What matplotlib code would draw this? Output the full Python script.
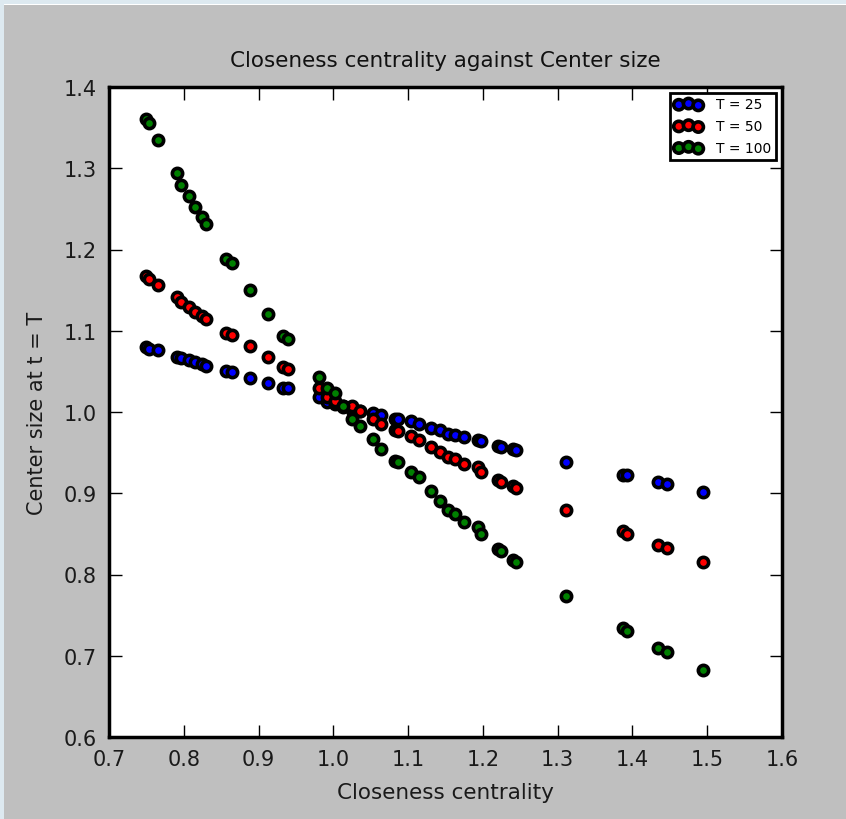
import matplotlib
matplotlib.use("Agg")
import matplotlib.pyplot as plt
from matplotlib.patches import Rectangle

# closeness centrality of each node (shared by all three runs)
closeness = [0.750, 0.753, 0.765, 0.791, 0.796, 0.807, 0.815, 0.824, 0.830,
             0.856, 0.864, 0.889, 0.912, 0.933, 0.939,
             0.981, 0.991, 1.002, 1.013, 1.025, 1.036, 1.053, 1.064, 1.082,
             1.086, 1.104, 1.115, 1.130, 1.142, 1.153, 1.163, 1.175, 1.193,
             1.198, 1.220, 1.224, 1.240, 1.244,
             1.311, 1.387, 1.393, 1.434, 1.446, 1.494]

# center size at t = T
size_t25 = [1.080, 1.078, 1.076, 1.068, 1.066, 1.064, 1.061, 1.059, 1.057,
            1.050, 1.049, 1.042, 1.036, 1.030, 1.029,
            1.018, 1.012, 1.010, 1.006, 1.003, 1.001, 0.999, 0.996, 0.992,
            0.991, 0.989, 0.985, 0.980, 0.978, 0.973, 0.972, 0.969, 0.966,
            0.964, 0.958, 0.957, 0.954, 0.953,
            0.938, 0.923, 0.922, 0.914, 0.911, 0.901]
size_t50 = [1.167, 1.164, 1.156, 1.141, 1.135, 1.129, 1.123, 1.118, 1.115,
            1.097, 1.095, 1.081, 1.068, 1.055, 1.053,
            1.030, 1.018, 1.014, 1.007, 1.007, 1.001, 0.991, 0.985, 0.978,
            0.977, 0.970, 0.966, 0.957, 0.951, 0.945, 0.942, 0.936, 0.932,
            0.926, 0.916, 0.914, 0.909, 0.907,
            0.879, 0.853, 0.850, 0.836, 0.833, 0.816]
size_t100 = [1.361, 1.356, 1.335, 1.294, 1.280, 1.266, 1.252, 1.240, 1.231,
             1.188, 1.184, 1.150, 1.121, 1.093, 1.090,
             1.043, 1.030, 1.023, 1.007, 0.992, 0.983, 0.967, 0.954, 0.940,
             0.938, 0.926, 0.920, 0.903, 0.891, 0.879, 0.874, 0.865, 0.858,
             0.850, 0.831, 0.829, 0.818, 0.816,
             0.774, 0.734, 0.731, 0.710, 0.705, 0.682]

series = [(size_t25, "blue", "T = 25"),
          (size_t50, "red", "T = 50"),
          (size_t100, "green", "T = 100")]

fig = plt.figure(figsize=(8.46, 8.2), dpi=100, facecolor="#bfbfbf")
# light frame strips along the top and left edge of the screenshot
fig.patches.append(Rectangle((0, 0.9945), 1, 0.0055, transform=fig.transFigure,
                             facecolor="#dde9f0", edgecolor="none"))
fig.patches.append(Rectangle((0, 0.993), 1, 0.0015, transform=fig.transFigure,
                             facecolor="white", edgecolor="none"))
fig.patches.append(Rectangle((0, 0), 0.005, 1, transform=fig.transFigure,
                             facecolor="#dde9f0", edgecolor="none"))

ax = fig.add_axes([109 / 846, 1 - 738 / 820, 673 / 846, 650 / 820])

for ys, col, lab in series:
    ax.scatter(closeness, ys, s=55, c=col, edgecolors="black", linewidths=2.6,
               label=lab, zorder=3)

ax.set_xlim(0.7, 1.6)
ax.set_ylim(0.6, 1.4)
ax.set_xticks([0.7, 0.8, 0.9, 1.0, 1.1, 1.2, 1.3, 1.4, 1.5, 1.6])
ax.set_yticks([0.6, 0.7, 0.8, 0.9, 1.0, 1.1, 1.2, 1.3, 1.4])
ax.tick_params(direction="in", length=9, width=1, top=True, right=True,
               labelsize=15, labelcolor="#1a1a1a", pad=9)
for sp in ax.spines.values():
    sp.set_linewidth(2.5)

ax.set_title("Closeness centrality against Center size", fontsize=15.5,
             color="#111111", pad=15)
ax.set_xlabel("Closeness centrality", fontsize=15.5, color="#1a1a1a", labelpad=9)
ax.set_ylabel("Center size at t = T", fontsize=15, color="#1a1a1a", labelpad=12)

leg = ax.legend(loc="upper right", scatterpoints=3,
                scatteryoffsets=[0.375, 0.5, 0.3125], fontsize=10,
                fancybox=False, framealpha=1, borderaxespad=0.4,
                handletextpad=1.0, labelspacing=0.55, borderpad=0.35,
                handlelength=2.0)
leg.get_frame().set_edgecolor("black")
leg.get_frame().set_linewidth(2)

fig.savefig("out.png", dpi=100, facecolor=fig.get_facecolor())
